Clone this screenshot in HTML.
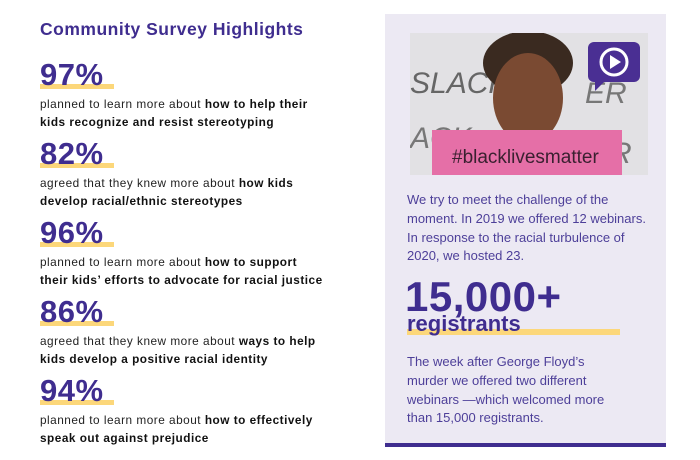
<!DOCTYPE html>
<html><head><style>
body{margin:0;width:700px;height:460px;background:#fff;position:relative;overflow:hidden;font-family:"Liberation Sans",sans-serif}
.a{position:absolute}
.t{left:40px;top:19px;font-size:17.5px;font-weight:bold;color:#3f2d8f;letter-spacing:0.5px}
.p{left:40px;font-size:31px;font-weight:bold;color:#3f2d8f;letter-spacing:0.5px;line-height:34px}
.u{left:40px;width:74px;height:5px;background:#fcd77a}
.d{left:40px;font-size:11.8px;color:#222;line-height:17.5px;width:320px;white-space:nowrap;letter-spacing:0.5px}
.d b{color:#111}
.r{left:407px;font-size:13px;color:#4d3f99;line-height:18.8px}
</style></head><body>
<div class="a t">Community Survey Highlights</div>

<div class="a u" style="top:84px"></div><div class="a p" style="top:58px">97%</div>
<div class="a d" style="top:96px">planned to learn more about <b>how to help their</b><br><b>kids recognize and resist stereotyping</b></div>

<div class="a u" style="top:163px"></div><div class="a p" style="top:137px">82%</div>
<div class="a d" style="top:175px">agreed that they knew more about <b>how kids</b><br><b>develop racial/ethnic stereotypes</b></div>

<div class="a u" style="top:242px"></div><div class="a p" style="top:216px">96%</div>
<div class="a d" style="top:254px">planned to learn more about <b>how to support</b><br><b>their kids’ efforts to advocate for racial justice</b></div>

<div class="a u" style="top:321px"></div><div class="a p" style="top:295px">86%</div>
<div class="a d" style="top:333px">agreed that they knew more about <b>ways to help</b><br><b>kids develop a positive racial identity</b></div>

<div class="a u" style="top:400px"></div><div class="a p" style="top:374px">94%</div>
<div class="a d" style="top:412px">planned to learn more about <b>how to effectively</b><br><b>speak out against prejudice</b></div>

<div class="a" style="left:385px;top:14px;width:281px;height:429px;background:#ece9f3"></div>
<div class="a" style="left:385px;top:443px;width:281px;height:4px;background:#3f2d8f"></div>

<svg class="a" style="left:410px;top:33px" width="238" height="142">
<rect width="238" height="142" fill="#e2e1e4"/>
<text x="0" y="60" font-size="30" fill="#666" font-family="Liberation Sans" font-style="italic">SLACK</text>
<text x="175" y="70" font-size="30" fill="#777" font-family="Liberation Sans" font-style="italic">ER</text>
<text x="0" y="115" font-size="30" fill="#777" font-family="Liberation Sans" font-style="italic">ACK</text>
<text x="200" y="130" font-size="30" fill="#777" font-family="Liberation Sans" font-style="italic">R</text>
<ellipse cx="118" cy="30" rx="45" ry="32" fill="#3a2a20"/>
<ellipse cx="118" cy="65" rx="35" ry="45" fill="#7a4a32"/>
<rect x="70" y="100" width="100" height="30" fill="#6a4030"/>
<rect x="22" y="97" width="190" height="45" fill="#e56fa7"/>
<text x="42" y="130" font-size="19" fill="#3a2030" font-family="Liberation Sans">#blacklivesmatter</text>
<rect x="178" y="9" width="52" height="40" rx="6" fill="#4a2f93"/>
<polygon points="185,48 185,58 195,48" fill="#4a2f93"/>
<circle cx="204" cy="29" r="13" fill="none" stroke="#fff" stroke-width="3"/>
<polygon points="200,22 200,36 211,29" fill="#fff"/>
</svg>

<div class="a r" style="top:191px">We try to meet the challenge of the<br>moment. In 2019 we offered 12 webinars.<br>In response to the racial turbulence of<br>2020, we hosted 23.</div>
<div class="a" style="left:407px;top:329px;width:213px;height:6px;background:#fcd77a"></div>
<div class="a" style="left:405px;top:275px;font-size:42px;font-weight:bold;color:#3f2d8f;line-height:44px;letter-spacing:0.5px">15,000+</div>
<div class="a" style="left:407px;top:312px;font-size:22px;font-weight:bold;color:#3f2d8f;line-height:24px">registrants</div>
<div class="a r" style="top:353px">The week after George Floyd’s<br>murder we offered two different<br>webinars —which welcomed more<br>than 15,000 registrants.</div>
</body></html>
